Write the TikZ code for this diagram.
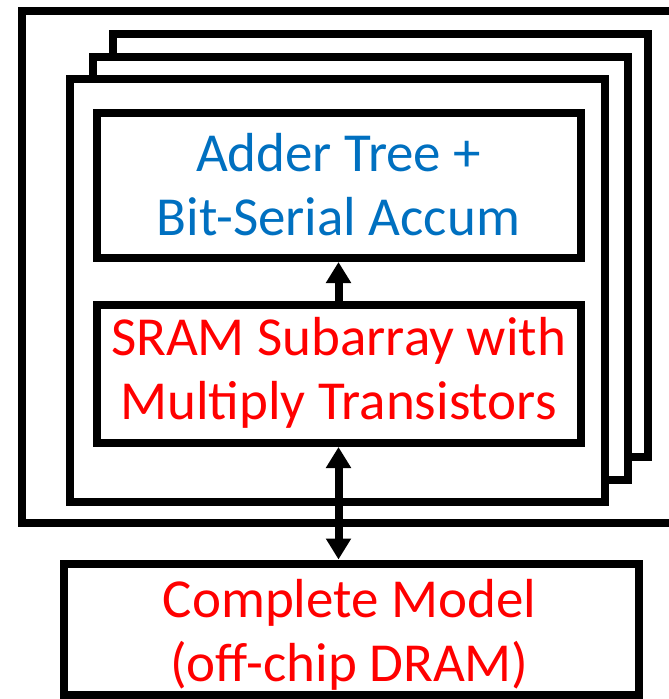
\documentclass[tikz,border=0pt]{standalone}
\usepackage{fontspec}
\setmainfont{Carlito}
\usetikzlibrary{arrows.meta}
\definecolor{accblue}{RGB}{0,112,192}
\definecolor{accred}{RGB}{255,0,0}
\begin{document}
\begin{tikzpicture}[x=1pt,y=-1pt,
  frame/.style={draw=black, line width=8pt, fill=white, inner sep=0pt, outer sep=0pt},
  unitbox/.style={frame, minimum width=535pt, minimum height=423pt},
  caption/.style={inner sep=0pt, align=center, font=\fontsize{55}{64}\selectfont},
  link/.style={line width=8pt, -{Triangle[width=24pt,length=21pt]}, shorten >=4pt},
  duplex/.style={line width=8pt, {Triangle[width=24pt,length=21pt]}-{Triangle[width=24pt,length=21pt]}, shorten >=4pt, shorten <=4pt}]
\useasboundingbox (0,0) rectangle (669,699);
\clip (0,0) rectangle (669,699);

% chip outline, running off the right edge
\draw[line width=8pt] (700,11) -- (22,11) -- (22,523) -- (700,523);

% stacked compute units, back to front
\node[unitbox] (unit3) at (380.75,245.25) {};
\node[unitbox] (unit2) at (360.5,268.5) {};
\node[unitbox] (unit1) at (337.5,290.5) {};

% blocks inside the front unit
\node[frame, minimum width=484pt, minimum height=145pt] (adder) at (338.5,185.5) {};
\node[frame, minimum width=484pt, minimum height=138pt] (sram) at (338.5,374) {};

% off-chip memory
\node[frame, minimum width=575pt, minimum height=131pt] (dram) at (351.5,629) {};

% block labels
\node[caption, text=accblue] (addertxt) at ([yshift=1pt]adder.center)
  {Adder Tree +\\Bit-Serial Accum};
\node[caption, text=accred] (sramtxt) at ([yshift=1pt]sram.center)
  {SRAM Subarray with\\Multiply Transistors};
\node[caption, text=accred] (dramtxt) at ([xshift=-2pt,yshift=-6pt]dram.center)
  {Complete Model\\(off-chip DRAM)};

% data paths
\draw[link] (sram.north) -- (adder.south);
\draw[duplex] (sram.south) -- (sram.south |- dram.north);
\end{tikzpicture}
\end{document}
